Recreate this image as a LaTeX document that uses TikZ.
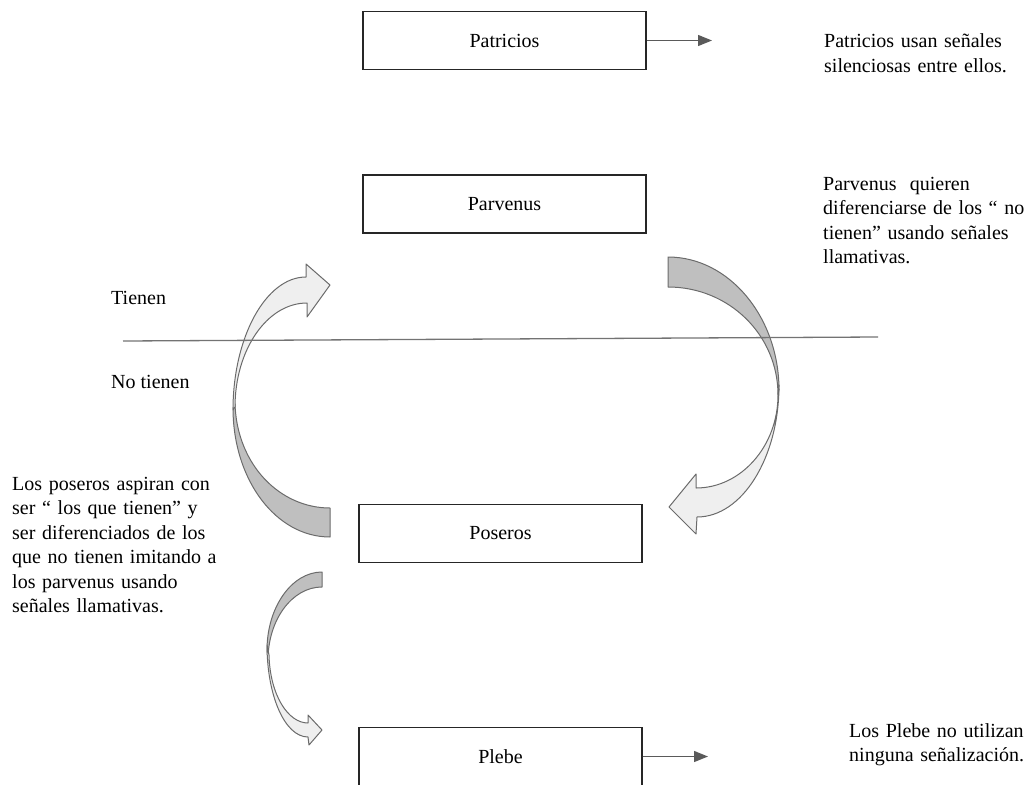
\documentclass[tikz,border=0pt]{standalone}
\usepackage{fontspec}
\setmainfont{Liberation Serif}
\usetikzlibrary{arrows.meta}
\definecolor{bandDark}{HTML}{BFBFBF}
\definecolor{bandLight}{HTML}{EFEFEF}
\definecolor{bandEdge}{HTML}{6B6B6B}
\definecolor{connGray}{HTML}{5A5A5A}
\begin{document}
\begin{tikzpicture}[x=1pt,y=-1pt,
  class/.style={draw=black!85,line width=1.3pt,minimum width=283pt,minimum height=58pt,
    inner sep=0pt,font=\fontsize{20}{24.5}\selectfont},
  note/.style={anchor=north west,inner sep=0pt,align=left,text width=215pt,
    font=\fontsize{20}{24.5}\selectfont},
  side/.style={anchor=base west,inner sep=0pt,font=\fontsize{20}{24.5}\selectfont},
  signal/.style={draw=connGray,line width=1.3pt,-{Triangle[length=14pt,width=11pt]}},
  bandback/.style={fill=bandDark,draw=bandEdge,line width=1pt,line join=round},
  bandfront/.style={fill=bandLight,draw=bandEdge,line width=1pt,line join=round},
  divider/.style={draw=black!55,line width=1.3pt}]
\useasboundingbox (0,0) rectangle (1027,784);

% class boxes
\node[class] (pat)  at (504.5,40.5) {Patricios};
\node[class] (par)  at (504.5,204)  {Parvenus};
\node[class] (pos)  at (500.5,533.5) {Poseros};
\node[class] (pleb) at (500.5,756.5) {Plebe};

% signal arrows
\coordinate (patEnd)  at (712,40.5);
\coordinate (plebEnd) at (708,756.5);
\draw[signal] (pat.east) -- (patEnd);
\draw[signal] (pleb.east) -- (plebEnd);

% descriptions
\node[note] (patText)  at (824,47.5-17.15) {\strut Patricios usan señales\\silenciosas entre ellos.};
\node[note] (parText)  at (823,190-17.15) {\strut Parvenus\ \ quieren\\diferenciarse de los “ no\\tienen” usando señales\\llamativas.};
\node[note] (posText)  at (12,490-17.15) {\strut Los poseros aspiran con\\ser “ los que tienen” y\\ser diferenciados de los\\que no tienen imitando a\\los parvenus usando\\señales llamativas.};
\node[note] (plebText) at (849,737-17.15) {\strut Los Plebe no utilizan\\ninguna señalización.};
\node[side] (haves)    at (111,304) {Tienen};
\node[side] (havenots) at (111,388) {No tienen};

% curved arrow: Poseros up to Parvenus
\path[bandback] (233,408) .. controls (233,480) and (276,537) .. (330,537)
  -- (330,508) .. controls (280,508) and (237,465) .. (235,404) -- cycle;
\path[bandfront] (306,277) -- (306,264) -- (330,285) -- (307,317) -- (307,303)
  .. controls (267,303) and (235,350) .. (235,407)
  -- (233,410) .. controls (233,337) and (266,277) .. (306,277) -- cycle;

% curved arrow: Parvenus down to Poseros
\path[bandback] (668,257) .. controls (729,257) and (779,317) .. (779,390)
  -- (778,395) .. controls (778,335) and (729,287) .. (668,287) -- cycle;
\path[bandfront] (779,385) .. controls (779,458) and (742,517) .. (697,517)
  -- (696,534) -- (669,507) -- (696,474) -- (696,488)
  .. controls (741,488) and (778,446) .. (778,395) -- cycle;

% curved arrow: Poseros down to Plebe
\path[bandback] (322,572) .. controls (292,572) and (267,607) .. (267,650)
  -- (268,660) .. controls (268,620) and (292,587) .. (322,587) -- cycle;
\path[bandfront] (267,645) .. controls (267,696) and (285,737) .. (308,737)
  -- (309,745) -- (322,730) -- (308,715) -- (308,723)
  .. controls (288,723) and (270,695) .. (269,655) -- cycle;

% dividing line between the haves and the have-nots
\coordinate (divL) at (123,341);
\coordinate (divR) at (878,337);
\draw[divider] (divL) -- (divR);
\end{tikzpicture}
\end{document}
